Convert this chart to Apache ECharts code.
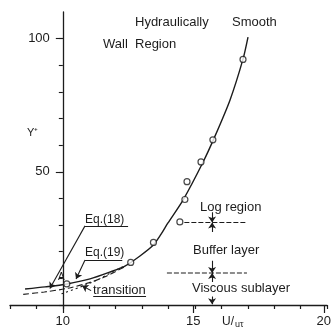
<!DOCTYPE html>
<html><head><meta charset="utf-8">
<script src="https://cdn.jsdelivr.net/npm/echarts@6/dist/echarts.min.js"></script>
<style>html,body{margin:0;padding:0;background:#fff}#c{width:334px;height:330px}</style>
</head><body><div id="c"></div><script>
const ink = '#1c1c1c';
const font = '"Liberation Sans", Arial, sans-serif';

// Velocity profile: U+ (x) against y+ (y)
const smoothCurve = [[8.57,6.0],[9.33,6.8],[10.16,7.9],[11.03,9.8],[11.79,12.4],[12.35,14.6],[12.92,18.4],[13.41,22.3],[13.72,26.6],[13.98,30.8],[14.55,39.4],[15.31,53.7],[15.76,63.4],[16.33,77.0],[16.82,92.3],[17.01,100.6]];
const eq18Curve = [[8.5,4.0],[9.3,4.9],[10.2,6.3],[11.0,8.4],[11.6,10.6],[12.0,12.6],[12.4,14.6]];
const transitionCurve = [[9.95,4.2],[10.7,6.9],[11.3,9.4],[11.85,12.3],[12.3,14.5]];
const measured = [[10.15,7.9],[12.57,16.0],[13.43,23.5],[14.43,31.2],[14.62,39.6],[14.70,46.3],[15.23,53.7],[15.68,62.0],[16.82,92.2]];

// Layer boundaries (y+) and where their markers sit (U+)
const logStart = 31;
const viscousTop = 12;
const boundaryFromU = [14.6, 13.94];
const boundaryToU = 16.97;
const markerU = 15.65;

// Leader lines and underlines for the annotations, in U+ / y+ units
const arrowLines = [
  [[10.84,29.7],[9.51,6.2]],
  [[10.84,16.9],[10.50,9.8]],
  [[11.07,5.4],[10.73,7.2]],
  [[markerU,34.8],[markerU,31]],
  [[markerU,27.4],[markerU,31]],
  [[markerU,16.6],[markerU,12]],
  [[markerU,8.6],[markerU,12]],
  [[markerU,3.2],[markerU,0.3]]
];
const underlines = [
  [[10.84,29.7],[12.47,29.7]],
  [[10.84,16.9],[12.25,16.9]],
  [[11.15,3.4],[13.15,3.4]]
];

const yMinorTicks = [0, 10, 20, 30, 40, 50, 60, 70, 80, 90, 100];
const yTicksLabelled = [50, 100];

const chart = echarts.init(document.getElementById('c'));
const gridTop = 12, gridBottom = 25, gridRight = 7;
const gridLeft = 10, xMin = 8, xMax = 20;
const innerLeft = gridLeft + (10 - xMin) * (334 - gridLeft - gridRight) / (xMax - xMin);

chart.setOption({
  backgroundColor: '#fff',
  animation: false,
  grid: [
    {left: gridLeft, right: gridRight, top: gridTop, bottom: gridBottom},
    {left: innerLeft, right: gridRight, top: gridTop, bottom: gridBottom}
  ],
  xAxis: [
    {gridIndex: 0, type: 'value', min: xMin, max: xMax, interval: 1,
      axisLine: {lineStyle: {color: ink, width: 1.3}},
      axisTick: {length: 4, lineStyle: {color: ink, width: 1.2}},
      axisLabel: {show: false}, splitLine: {show: false}},
    {gridIndex: 1, type: 'value', min: 10, max: 20, interval: 5,
      axisLine: {show: false},
      axisTick: {length: 8, lineStyle: {color: ink, width: 1.2}},
      axisLabel: {margin: 10, color: ink, fontSize: 13, fontFamily: font},
      splitLine: {show: false}}
  ],
  yAxis: [
    {gridIndex: 0, type: 'value', min: 0, max: 110, show: false},
    {gridIndex: 1, type: 'value', min: 0, max: 110, interval: 10,
      axisLine: {show: true, onZero: false, lineStyle: {color: ink, width: 1.3}},
      axisTick: {length: 4, customValues: yMinorTicks, lineStyle: {color: ink, width: 1.1}},
      axisLabel: {show: false}, splitLine: {show: false}},
    {gridIndex: 1, type: 'value', min: 0, max: 110, interval: 10, position: 'left',
      axisLine: {show: false},
      axisTick: {length: 7, customValues: yTicksLabelled, lineStyle: {color: ink, width: 1.1}},
      axisLabel: {margin: 13, color: ink, fontSize: 13, fontFamily: font, customValues: yTicksLabelled},
      splitLine: {show: false}}
  ],
  series: [
    {type: 'line', data: smoothCurve, smooth: 0.25, symbol: 'none', z: 3,
      lineStyle: {color: ink, width: 1.4}},
    {type: 'line', data: eq18Curve, smooth: 0.3, symbol: 'none',
      lineStyle: {color: ink, width: 1.1, type: [6, 3]}},
    {type: 'line', data: transitionCurve, smooth: 0.3, symbol: 'none',
      lineStyle: {color: ink, width: 1.1, type: [2, 3]}},
    {type: 'line', data: [[boundaryFromU[0], logStart], [boundaryToU, logStart]], symbol: 'none',
      lineStyle: {color: ink, width: 1.1, type: [5, 2]}},
    {type: 'line', data: [[boundaryFromU[1], viscousTop], [boundaryToU, viscousTop]], symbol: 'none',
      lineStyle: {color: ink, width: 1.1, type: [5, 2]}},
    {type: 'lines', coordinateSystem: 'cartesian2d', symbol: ['none', 'arrow'], symbolSize: 6,
      lineStyle: {color: ink, width: 1.1, opacity: 1, curveness: 0},
      data: arrowLines.map(c => ({coords: c}))},
    {type: 'lines', coordinateSystem: 'cartesian2d', symbol: 'none',
      lineStyle: {color: ink, width: 1.1, opacity: 1, curveness: 0},
      data: underlines.map(c => ({coords: c}))},
    {type: 'scatter', data: measured, symbol: 'circle', symbolSize: 6, z: 5,
      itemStyle: {color: '#fff', borderColor: ink, borderWidth: 1.2}}
  ],
  graphic: [
    ['Hydraulically', 135, 22, 13], ['Smooth', 232, 22, 13], ['Wall  Region', 103, 44, 13],
    ['Log region', 200, 207, 13], ['Buffer layer', 193, 250, 13], ['Viscous sublayer', 192, 288, 13],
    ['Eq.(18)', 85, 220, 12], ['Eq.(19)', 85, 253, 12], ['transition', 93, 290, 13],
    ['A', 58, 277, 10], ['Y\u207A', 27, 133, 11]
  ].map(([t, x, y, s]) => ({type: 'text', x, y,
    style: {text: t, fill: ink, font: s + 'px ' + font, textVerticalAlign: 'middle'}}))
  .concat([{type: 'text', x: 222, y: 322,
    style: {text: '{a|U/}{b|u\u03C4}', fill: ink, textVerticalAlign: 'middle',
      rich: {a: {fontSize: 12, fontFamily: font, fill: ink}, b: {fontSize: 9, fontFamily: font, fill: ink, padding: [6, 0, 0, 1]}}}}])
});
</script></body></html>
